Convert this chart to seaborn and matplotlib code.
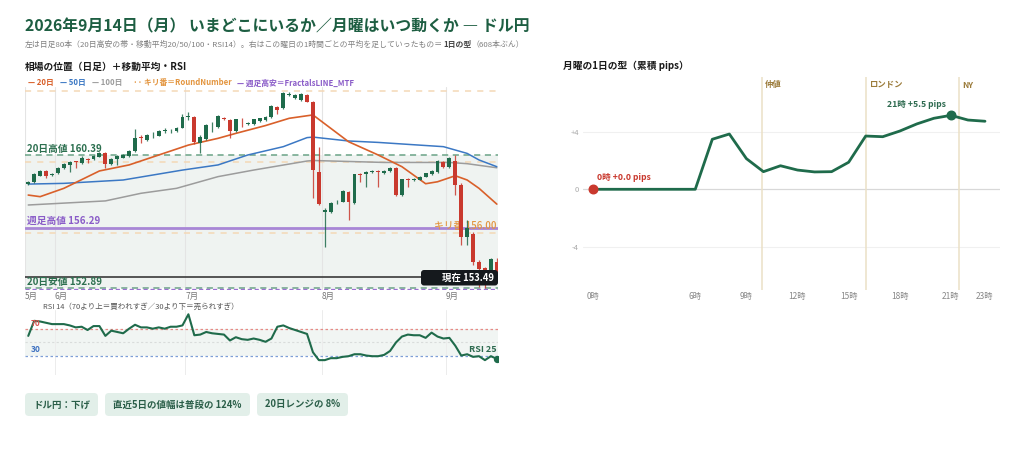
import numpy as np
import pandas as pd
import matplotlib
matplotlib.use("Agg")
import matplotlib.pyplot as plt
import seaborn as sns
from matplotlib.patches import FancyBboxPatch
from matplotlib.transforms import IdentityTransform

# ---------------- data ----------------
dates = pd.bdate_range(end="2026-09-14", periods=80)

opens = [158.75, 158.85, 159.22, 159.49, 159.26, 159.36, 159.64, 159.83, 160.03, 159.92,
         160.19, 160.17, 160.30, 160.52, 159.86, 160.17, 160.24, 160.33, 160.62, 161.41,
         161.24, 161.50, 161.48, 161.74, 161.72, 161.74, 161.93, 162.53, 162.55, 161.05,
         161.30, 162.12, 161.95, 162.50, 162.36, 161.74, 162.38, 162.12, 162.12, 162.31,
         162.36, 162.51, 163.10, 163.06, 163.77, 163.59, 163.49, 163.77, 163.40, 159.45,
         157.20, 157.16, 157.72, 157.76, 158.32, 157.66, 159.32, 159.30, 159.43, 159.47,
         159.36, 159.49, 159.64, 158.13, 159.04, 158.98, 159.00, 159.17, 159.30, 159.41,
         159.98, 159.73, 160.05, 158.70, 155.78, 155.92, 154.37, 153.99, 153.90, 154.38]
highs = [158.95, 159.36, 159.53, 159.55, 159.38, 159.70, 159.95, 160.05, 160.05, 160.35,
         160.24, 160.40, 160.56, 160.56, 160.20, 160.37, 160.43, 160.67, 161.84, 161.52,
         161.56, 161.71, 161.80, 161.89, 161.84, 161.97, 162.68, 162.83, 162.59, 161.52,
         162.12, 162.23, 162.62, 162.53, 162.40, 162.44, 162.46, 162.27, 162.44, 162.50,
         162.59, 163.20, 163.15, 163.92, 163.92, 163.81, 163.87, 163.81, 163.45, 160.86,
         157.40, 157.72, 157.85, 158.40, 158.36, 159.34, 159.36, 159.49, 159.55, 159.55,
         159.55, 159.70, 159.70, 159.06, 159.08, 159.10, 159.23, 159.40, 159.53, 160.09,
         160.05, 160.30, 160.39, 158.80, 156.72, 156.05, 154.45, 154.05, 154.60, 154.60]
lows = [158.70, 158.80, 159.18, 159.10, 159.18, 159.30, 159.60, 159.41, 159.68, 159.86,
        159.92, 160.12, 160.26, 159.64, 159.80, 159.83, 160.20, 160.28, 160.58, 161.05,
        161.20, 161.33, 161.44, 161.61, 161.64, 161.70, 161.90, 162.36, 160.99, 160.48,
        161.26, 161.71, 161.90, 162.36, 161.33, 161.70, 161.99, 162.08, 162.08, 162.27,
        162.31, 162.46, 162.72, 163.00, 163.70, 163.55, 163.45, 163.36, 157.95, 157.55,
        155.22, 157.10, 157.65, 157.72, 156.72, 157.60, 158.88, 158.60, 159.36, 158.60,
        159.30, 159.45, 158.08, 158.08, 158.60, 158.94, 158.96, 159.13, 159.26, 159.36,
        159.68, 159.68, 158.13, 155.31, 155.31, 154.20, 152.95, 152.89, 153.85, 153.40]
closes = [158.89, 159.30, 159.49, 159.22, 159.30, 159.64, 159.90, 160.01, 159.99, 160.24,
          160.13, 160.35, 160.52, 159.88, 160.16, 160.33, 160.39, 160.62, 161.37, 161.35,
          161.52, 161.54, 161.76, 161.78, 161.76, 161.93, 162.51, 162.57, 161.14, 161.39,
          162.08, 162.16, 162.59, 162.40, 161.74, 162.40, 162.34, 162.21, 162.40, 162.46,
          162.55, 163.17, 162.90, 163.87, 163.80, 163.77, 163.83, 163.40, 159.54, 157.61,
          157.30, 157.66, 157.76, 158.36, 157.76, 159.30, 159.26, 159.45, 159.47, 159.41,
          159.49, 159.64, 158.13, 159.02, 158.98, 159.02, 159.17, 159.36, 159.49, 160.05,
          159.73, 160.20, 158.70, 155.78, 156.25, 154.37, 153.96, 153.90, 154.52, 153.49]

ma20_idx = [0, 2, 6, 12, 17, 22, 27, 32, 35, 40, 44, 48, 54, 59, 63, 67, 69, 72, 74, 76, 79]
ma20_val = [158.13, 158.04, 158.51, 159.49, 159.83, 160.39, 160.95, 161.33, 161.61, 162.05,
            162.46, 162.65, 161.14, 160.39, 159.73, 158.77, 158.88, 159.22, 158.98, 158.51, 157.62]
ma50_idx = [0, 6, 16, 26, 32, 37, 43, 47, 48, 54, 59, 64, 70, 74, 76, 79]
ma50_val = [158.75, 158.79, 158.98, 159.54, 159.83, 160.39, 160.86, 161.37, 161.40, 161.18,
            161.10, 160.99, 160.86, 160.48, 160.11, 159.73]
ma100_idx = [0, 13, 19, 25, 32, 38, 47, 48, 60, 71, 74, 79]
ma100_val = [157.57, 157.80, 158.23, 158.51, 159.17, 159.54, 160.05, 160.08, 159.97, 159.97,
             159.90, 159.67]

rsi = [60, 83, 82, 80, 78, 78, 78, 76, 73, 74, 69, 75, 75, 60, 68, 66, 64, 71, 77, 73,
       73, 71, 73, 71, 74, 74, 76, 93, 61, 62, 66, 64, 63, 62, 53, 58, 55, 54, 56, 54,
       51, 56, 74, 76, 72, 69, 66, 63, 35, 23, 23, 26, 26, 28, 29, 32, 32, 30, 29, 29,
       31, 37, 50, 59, 62, 61, 61, 57, 65, 59, 56, 57, 45, 30, 32, 28, 29, 23, 29, 25]

high20 = 160.39
low20 = 152.89
weekly_high = 156.29
weekly_low = 152.84
round_numbers = [156.00, 160.00, 164.00]
current = 153.49

hours = list(range(24))
cum_pips = [0, 0, 0, 0, 0, 0, 0, 3.72, 4.11, 2.28, 1.31, 1.75, 1.43, 1.29, 1.31, 2.01,
            3.96, 3.91, 4.33, 4.86, 5.28, 5.50, 5.15, 5.06]
sessions = [("仲値", 9.92), ("ロンドン", 16.0), ("NY", 21.5)]
hour_ticks = [0, 6, 9, 12, 15, 18, 21, 23]

badges = ["ドル円：下げ", "直近5日の値幅は普段の 124%", "20日レンジの 8%"]

# ---------------- style ----------------
sns.set_theme(style="white")
plt.rcParams["font.family"] = ["Noto Sans CJK JP", "DejaVu Sans"]

GREEN = "#1f6b4b"
RED = "#c9392e"
TITLE = "#1d5e42"
C20 = "#d9602a"
C50 = "#3b78c4"
C100 = "#9c9c9c"
PURPLE = "#a886d6"
ORANGE = "#e3953f"

W, H = 1024, 462
fig = plt.figure(figsize=(W / 100, H / 100), dpi=100)
fig.patch.set_facecolor("white")


def fx(x):
    return x / W


def fy(y):
    return 1 - y / H


def px_box(x0, y0, x1, y1, fc, r=4, z=5):
    p = FancyBboxPatch((x0, H - y1), x1 - x0, y1 - y0,
                       boxstyle=f"round,pad=0,rounding_size={r}",
                       transform=IdentityTransform(), fc=fc, ec="none", zorder=z)
    fig.add_artist(p)
    return p


# titles
fig.text(fx(25), fy(26), "2026年9月14日（月） いまどこにいるか／月曜はいつ動くか ― ドル円",
         fontsize=11.4, fontweight="bold", color=TITLE, va="center", ha="left")

renderer = fig.canvas.get_renderer()
xcur = 25
for s, kw in [("左は日足80本（20日高安の帯・移動平均20/50/100・RSI14）。右はこの曜日の1時間ごとの平均を足していったもの＝",
               dict(color="#808080")),
              ("1日の型", dict(color="#444444", fontweight="bold")),
              ("（608本ぶん）", dict(color="#808080"))]:
    t = fig.text(fx(xcur), fy(45), s, fontsize=5.65, va="center", ha="left", **kw)
    xcur += t.get_window_extent(renderer).width

fig.text(fx(25), fy(67), "相場の位置（日足）＋移動平均・RSI", fontsize=7, fontweight="bold",
         color="#1a1a1a", va="center")
fig.text(fx(563), fy(66), "月曜の1日の型（累積 pips）", fontsize=7, fontweight="bold",
         color="#1a1a1a", va="center")

# legend
for s, c, xp in [("— 20日", C20, 28), ("— 50日", C50, 60), ("— 100日", C100, 92),
                  ("·· キリ番＝RoundNumber", ORANGE, 133),
                  ("— 週足高安＝FractalsLINE_MTF", "#8a5cc8", 237)]:
    fig.text(fx(xp), fy(83), s, fontsize=5.6, fontweight="bold", color=c, va="center")

# ---------------- price axes ----------------
ax = fig.add_axes([fx(25), fy(290), (498 - 25) / W, (290 - 87) / H])
x = np.arange(len(closes))
o, h, l, c = map(np.array, (opens, highs, lows, closes))
ax.set_xlim(-0.55, 79.2)
ax.set_ylim(152.776, 164.225)

ax.axhspan(low20, high20, color="#eff3f1", zorder=0, lw=0)
for r in round_numbers:
    ax.axhline(r, color="#f4d8b6", ls=(0, (4, 4)), lw=1.1, zorder=1)
ax.axhline(high20, color="#6aa386", ls=(0, (4, 3)), lw=1.1, zorder=1)
ax.axhline(low20, color="#6aa386", ls=(0, (4, 3)), lw=1.1, zorder=1)
ax.axhline(weekly_high, color=PURPLE, lw=2, zorder=1)
ax.axhline(weekly_low, color="#9a70d0", ls=(0, (3, 2)), lw=1.0, zorder=1)
ax.axhline(current, color="#3a3a3a", lw=1.2, zorder=1)

month_first = pd.Series(x, index=dates).groupby([dates.year, dates.month]).first().values
month_pos = [-0.55] + [m + 0.45 for m in month_first[1:]]
month_lbl = [f"{d.month}月" for d in dates[month_first]]
for mp in month_pos:
    ax.axvline(mp, color="#e4e4e4", lw=0.8, zorder=0.5)

lbl_kw = dict(textcoords="offset pixels", fontsize=7, fontweight="bold", va="bottom",
              annotation_clip=False)
ax.annotate(f"20日高値 {high20:.2f}", xy=(-0.55, high20), xytext=(2, 1.5), color="#2d7050",
            zorder=2, **lbl_kw)
ax.annotate(f"週足高値 {weekly_high:.2f}", xy=(-0.55, weekly_high), xytext=(2, 1.5),
            color="#8a5cc8", zorder=2, **lbl_kw)
ax.annotate(f"20日安値 {low20:.2f}", xy=(-0.55, low20), xytext=(2, 0.5), color="#2d7050",
            zorder=2, **lbl_kw)
ax.annotate(f"キリ番 {round_numbers[0]:.2f}", xy=(79.2, round_numbers[0]), xytext=(-1, 1.5),
            color=ORANGE, ha="right", zorder=2, textcoords="offset pixels", fontsize=7,
            va="bottom", fontweight="medium")

colors = np.where(c >= o, GREEN, RED)
ax.vlines(x, l, h, colors=colors, lw=0.9, zorder=3, alpha=0.85)
ax.bar(x, np.maximum(np.abs(c - o), 0.035), bottom=np.minimum(o, c), width=0.66,
       color=colors, zorder=4, lw=0)

sns.lineplot(x=ma100_idx, y=ma100_val, ax=ax, color=C100, lw=1.1, zorder=2.5)
sns.lineplot(x=ma50_idx, y=ma50_val, ax=ax, color=C50, lw=1.1, zorder=2.5)
sns.lineplot(x=ma20_idx, y=ma20_val, ax=ax, color=C20, lw=1.2, zorder=2.6)

ax.set_xticks(month_pos)
ax.set_xticklabels(month_lbl, fontsize=6, color="#777777", ha="left")
ax.tick_params(axis="x", length=0, pad=1.5)
ax.set_yticks([])
ax.set_xlabel("")
ax.set_ylabel("")
for sp in ax.spines.values():
    sp.set_visible(False)
ax.set_facecolor("white")

# current price box
px_box(421, 270, 498, 285.5, "#15191d", r=3, z=6)
fig.text(fx(494), fy(278), f"現在 {current:.2f}", fontsize=6.8, fontweight="bold",
         color="white", ha="right", va="center", zorder=7)

# ---------------- RSI axes ----------------
axr = fig.add_axes([fx(25), fy(375.2), (498 - 25) / W, (375.2 - 309.7) / H])
axr.set_xlim(-0.55, 79.2)
axr.set_ylim(0, 100)
axr.axhspan(30, 70, color="#f1f5f3", zorder=0, lw=0)
axr.axhline(70, color="#e58a86", ls=(0, (2, 2)), lw=0.9)
axr.axhline(50, color="#d9dcdb", ls=(0, (2, 2)), lw=0.8)
axr.axhline(30, color="#7f9fd6", ls=(0, (2, 2)), lw=0.9)
for mp in month_pos[1:]:
    axr.axvline(mp, color="#ececec", lw=0.7, zorder=0.5)
sns.lineplot(x=x, y=rsi, ax=axr, color=GREEN, lw=1.5, zorder=3)
axr.scatter([x[-1]], [rsi[-1]], s=18, color=GREEN, zorder=4)
axr.text(0.4, 72, "70", color="#d9534f", fontsize=6, fontweight="bold", va="bottom")
axr.text(0.4, 32, "30", color="#3b6fc0", fontsize=6, fontweight="bold", va="bottom")
axr.annotate(f"RSI {rsi[-1]}", xy=(x[-1], rsi[-1]), xytext=(0, 5), textcoords="offset pixels",
             ha="right", va="bottom", fontsize=6.5, fontweight="bold", color="#2d6a4f")
axr.set_xticks([])
axr.set_yticks([])
axr.set_xlabel("")
axr.set_ylabel("")
for sp in axr.spines.values():
    sp.set_visible(False)
fig.text(fx(43), fy(307), "RSI 14（70より上＝買われすぎ／30より下＝売られすぎ）",
         fontsize=5.4, color="#555555", va="center")

# ---------------- badges ----------------
for (x0, x1), s in zip([(25, 98), (105, 250), (257, 348)], badges):
    px_box(x0, 393, x1, 416, "#e2efe9", r=4, z=5)
    fig.text(fx((x0 + x1) / 2), fy(404.5), s, fontsize=6.8, fontweight="bold",
             color="#2a5e48", ha="center", va="center", zorder=6)

# ---------------- day-shape axes ----------------
axd = fig.add_axes([fx(583), fy(290), (1000 - 583) / W, (290 - 77) / H])
axd.set_xlim(-0.587, 23.88)
axd.set_ylim(-7.49, 8.35)
tick_v = 4.28
for v in (tick_v, -tick_v):
    axd.axhline(v, color="#f0f0f0", lw=0.8, zorder=0)
axd.axhline(0, color="#d8d8d8", lw=0.9, zorder=0)
for name, hr in sessions:
    axd.axvline(hr, color="#ebe0c6", lw=1.1, zorder=0.5)
    axd.annotate(name, xy=(hr, 8.35), xytext=(3, -8), textcoords="offset pixels",
                 fontsize=6, fontweight="bold", color="#9b7b3a", va="center",
                 annotation_clip=False)
sns.lineplot(x=hours, y=cum_pips, ax=axd, color=GREEN, lw=2, zorder=3)
imax = int(np.argmax(cum_pips))
axd.scatter([hours[0]], [cum_pips[0]], s=38, color="#c9392e", zorder=4)
axd.scatter([hours[imax]], [cum_pips[imax]], s=38, color=GREEN, zorder=4)
axd.annotate(f"{hours[0]}時 {cum_pips[0]:+.1f} pips", xy=(hours[0], cum_pips[0]),
             xytext=(4, 12), textcoords="offset pixels", fontsize=6.2, fontweight="bold",
             color="#c9392e", ha="left", va="center")
axd.annotate(f"{hours[imax]}時 {cum_pips[imax]:+.1f} pips", xy=(hours[imax], cum_pips[imax]),
             xytext=(-5, 11), textcoords="offset pixels", fontsize=6.2, fontweight="bold",
             color="#2d6a4f", ha="right", va="center")
axd.set_xticks(hour_ticks)
axd.set_xticklabels([f"{t}時" for t in hour_ticks], fontsize=6, color="#888888")
axd.set_yticks([tick_v, 0, -tick_v])
axd.set_yticklabels([f"{tick_v:+.0f}", "0", f"{-tick_v:+.0f}"], fontsize=5.5, color="#aaaaaa")
axd.tick_params(length=0, pad=3)
axd.tick_params(axis="x", pad=1.5)
axd.set_xlabel("")
axd.set_ylabel("")
for sp in axd.spines.values():
    sp.set_visible(False)

fig.savefig("out.png", dpi=100, facecolor="white")
